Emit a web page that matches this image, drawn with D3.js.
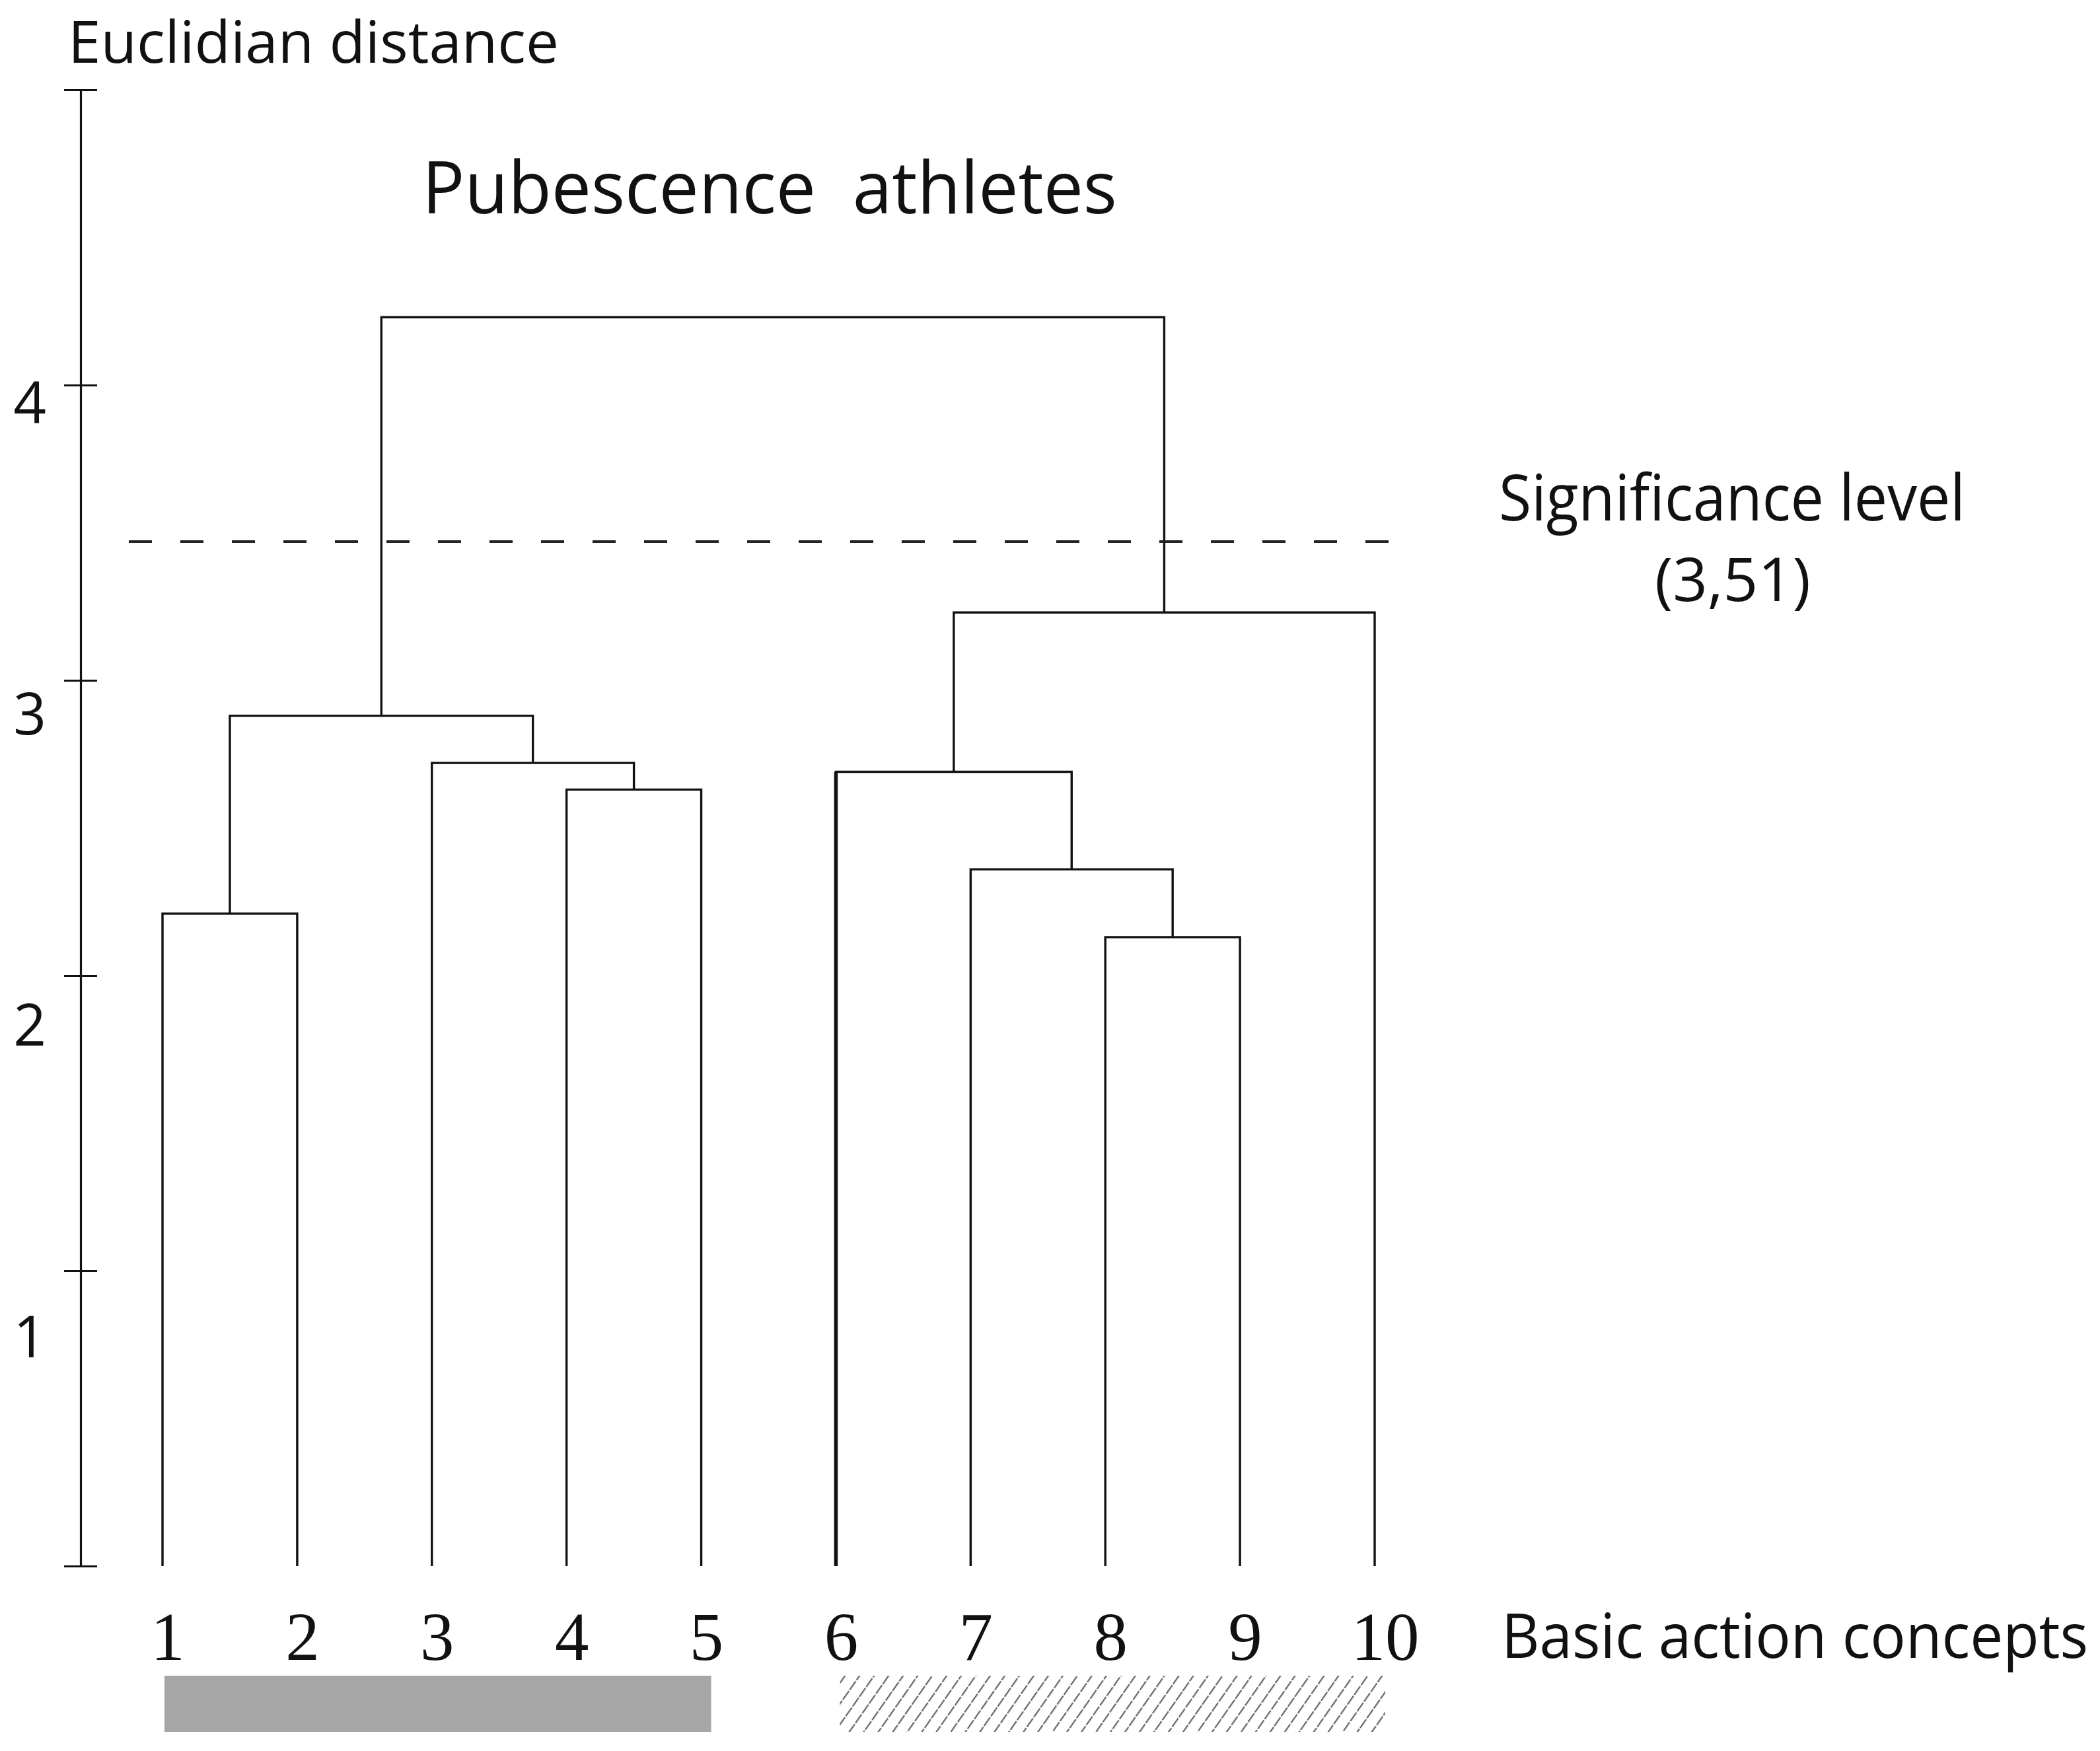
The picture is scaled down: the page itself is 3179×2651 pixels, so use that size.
<!DOCTYPE html>
<html>
<head>
<meta charset="utf-8">
<script src="https://cdn.jsdelivr.net/npm/d3@7"></script>
<style>
  body { margin: 0; background: #fff; }
  text { font-family: "Open Sans", "Noto Sans", sans-serif; fill: #111; }
  .leaf-label { font-family: "Liberation Serif", "DejaVu Serif", serif; }
</style>
</head>
<body>
<div id="chart"></div>
<script>
/* Data */
const leafLabels = ["1", "2", "3", "4", "5", "6", "7", "8", "9", "10"]

// linkage: [left, right, height]; ids < 10 are leaves, 10+ are earlier merges
const merges = [
  [7, 8, 2.13],   // 10: 8 + 9
  [0, 1, 2.21],   // 11: 1 + 2
  [6, 10, 2.36],  // 12: 7 + (8,9)
  [3, 4, 2.63],   // 13: 4 + 5
  [5, 12, 2.69],  // 14: 6 + (7,8,9)
  [2, 13, 2.72],  // 15: 3 + (4,5)
  [11, 15, 2.88], // 16: (1,2) + (3,4,5)
  [14, 9, 3.23],  // 17: (6..9) + 10
  [16, 17, 4.23], // 18: root
]

const yTicks = [0, 1, 2, 3, 4, 5]
const yTickLabels = [1, 2, 3, 4]
const significance = 3.47
const significanceText = ["Significance level", "(3,51)"]

const groups = [
  {from: "1", to: "5", style: "solid"},
  {from: "6", to: "10", style: "hatch"},
]
/* End Data */

const width = 3179
const height = 2651

const svg = d3.select("#chart").append("svg")
    .attr("width", width)
    .attr("height", height)
    .attr("viewBox", `0 0 ${width} ${height}`)

const x = d3.scalePoint()
    .domain(leafLabels)
    .range([246, 2081])

const y = d3.scaleLinear()
    .domain([0, 5])
    .range([2371, 136])

// label baselines on the axis drift a little below the ticks in the original
const labelY = d3.scaleLinear()
    .domain([1, 4])
    .range([2054, 640])

// squeeze a text horizontally to a given width (original font is narrower)
const fitWidth = (text, target) => {
  const w = text.node().getComputedTextLength()
  const x0 = +text.attr("x")
  const y0 = +text.attr("y")
  text.attr("x", 0).attr("y", 0)
      .attr("transform", `translate(${x0},${y0}) scale(${target / w},1)`)
}

/* Build tree from linkage */
const nodes = leafLabels.map(name => ({name, height: 0}))
merges.forEach(([a, b, h]) => {
  nodes.push({name: `c${nodes.length}`, height: h, children: [nodes[a], nodes[b]]})
})
const root = d3.hierarchy(nodes[nodes.length - 1])

root.eachAfter(node => {
  node.px = node.children
      ? d3.mean(node.children, c => c.px)
      : x(node.data.name)
  node.py = y(node.data.height)
})

/* Axis */
const axis = svg.append("g")
    .attr("transform", `translate(122,0)`)
    .call(d3.axisLeft(y)
        .tickValues(yTicks)
        .tickSizeOuter(0)
        .tickSizeInner(25)
        .tickFormat(d => yTickLabels.includes(d) ? d : ""))

axis.select(".domain")
    .attr("stroke", "#111")
    .attr("stroke-width", 3.2)
axis.selectAll(".tick line")
    .attr("x1", 25)
    .attr("x2", -25)
    .attr("stroke", "#111")
    .attr("stroke-width", 3.2)
axis.selectAll(".tick text")
    .attr("x", -52)
    .attr("dy", null)
    .attr("y", d => yTickLabels.includes(d) ? labelY(d) - y(d) : 0)
    .attr("font-size", 87)
    .attr("font-family", '"Open Sans", "Noto Sans", sans-serif')
    .attr("fill", "#111")

/* Dendrogram links */
const linkPath = node => {
  const [l, r] = node.children
  return `M${l.px},${l.py}V${node.py}H${r.px}V${r.py}`
}

svg.append("g")
    .attr("fill", "none")
    .attr("stroke", "#111")
    .attr("stroke-width", 3.4)
  .selectAll("path")
  .data(root.descendants().filter(d => d.children))
  .join("path")
    .attr("d", linkPath)

// leaf 6 is drawn heavier in the original
svg.append("line")
    .attr("x1", x("6"))
    .attr("x2", x("6"))
    .attr("y1", y(0))
    .attr("y2", y(root.leaves().find(d => d.data.name === "6").parent.data.height))
    .attr("stroke", "#111")
    .attr("stroke-width", 5.5)

/* Significance line */
svg.append("line")
    .attr("x1", 195)
    .attr("x2", 2127)
    .attr("y1", y(significance))
    .attr("y2", y(significance))
    .attr("stroke", "#222")
    .attr("stroke-width", 4)
    .attr("stroke-dasharray", "35 43")

svg.append("text")
    .attr("x", 2622)
    .attr("y", 788)
    .attr("text-anchor", "middle")
    .attr("font-size", 97)
    .text(significanceText[0])
    .call(fitWidth, 706)

svg.append("text")
    .attr("x", 2623)
    .attr("y", 910)
    .attr("text-anchor", "middle")
    .attr("font-size", 92)
    .text(significanceText[1])
    .call(fitWidth, 236)

/* Leaf labels */
svg.append("g")
  .selectAll("text")
  .data(leafLabels)
  .join("text")
    .attr("class", "leaf-label")
    .attr("x", d => x(d) + 8 + (d.length > 1 ? 8 : 0))
    .attr("y", 2513)
    .attr("text-anchor", "middle")
    .attr("font-size", 103)
    .text(d => d)

/* Group bars */
const defs = svg.append("defs")
const hatch = defs.append("pattern")
    .attr("id", "hatch")
    .attr("patternUnits", "userSpaceOnUse")
    .attr("width", 18)
    .attr("height", 18)
    .attr("patternTransform", "rotate(35)")
hatch.append("line")
    .attr("x1", 0).attr("x2", 0)
    .attr("y1", 0).attr("y2", 18)
    .attr("stroke", "#666")
    .attr("stroke-width", 4.5)
    .attr("stroke-dasharray", "8 2")

svg.append("g")
  .selectAll("rect")
  .data(groups)
  .join("rect")
    .attr("x", d => x(d.from) + (d.style === "hatch" ? 6 : 3))
    .attr("y", 2537)
    .attr("width", d => x(d.to) - x(d.from) + (d.style === "hatch" ? 10 : 12))
    .attr("height", 85)
    .attr("fill", d => d.style === "hatch" ? "url(#hatch)" : "#a6a6a6")

/* Titles */
svg.append("text")
    .attr("x", 103)
    .attr("y", 95)
    .attr("font-size", 88)
    .text("Euclidian distance")
    .call(fitWidth, 743)

svg.append("text")
    .attr("x", 639)
    .attr("y", 323)
    .attr("font-size", 110)
    .style("white-space", "pre")
    .text("Pubescence  athletes")
    .call(fitWidth, 1052)

svg.append("text")
    .attr("x", 2273)
    .attr("y", 2510)
    .attr("font-size", 94)
    .text("Basic action concepts")
    .call(fitWidth, 888)
</script>
</body>
</html>
